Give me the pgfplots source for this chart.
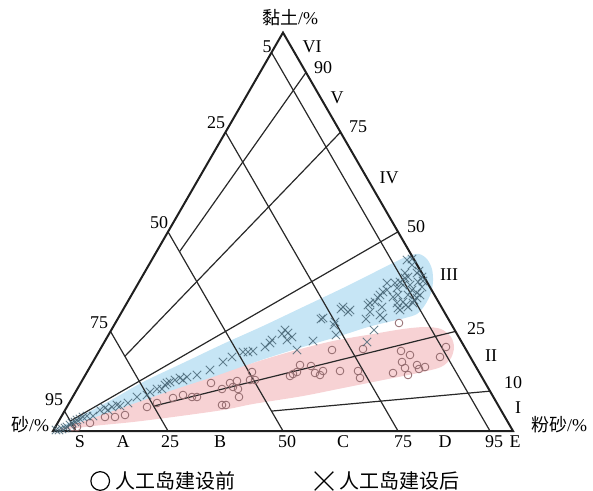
\documentclass[border=0pt]{standalone}
\usepackage{fontspec}
\setmainfont{Liberation Serif}
\newfontfamily\cjk{Noto Sans CJK SC}
\usepackage{pgfplots}
\pgfplotsset{compat=1.18}
\definecolor{blueReg}{RGB}{198,229,245}
\definecolor{pinkReg}{RGB}{247,210,212}
\definecolor{crossC}{RGB}{72,102,118}
\definecolor{circC}{RGB}{145,105,108}
\definecolor{lineC}{RGB}{40,40,40}
\newcommand\lbl{\fontsize{13.5}{15}\selectfont}
\begin{document}
\begin{tikzpicture}
\begin{axis}[x=0.75pt,y=0.75pt,xmin=-53,xmax=540,ymin=-59,ymax=431,
  hide axis, clip=false, enlargelimits=false,
  legend style={at={(axis cs:37,-50)},anchor=west,draw=none,fill=none,
    legend columns=2,font=\fontsize{15}{18}\selectfont\cjk,inner sep=0pt,
    nodes={inner sep=0pt},
    /tikz/every even column/.append style={column sep=59pt},
    /tikz/every odd column/.append style={column sep=4pt}},
  legend cell align=left]
\coordinate (BL) at (axis cs:-53,-59);
\coordinate (TR) at (axis cs:540,431);
% shaded regions
\addplot[fill=blueReg,draw=none,smooth,tension=0.5,forget plot] coordinates {
(0,0)(30,16)(60,32)(90,49)(130,68)(170,87)(210,105)(250,124)(290,143)(320,158)(340,168)(355,175)(366,177)(374,172)(379,162)(380,150)(378,138)(372,126)(364,117)(352,113)(335,109)(315,104)(290,96)(260,87)(230,78)(200,68)(160,52)(120,37)(80,23)(40,11)(0,0)} -- cycle;
\addplot[fill=pinkReg,draw=none,smooth,tension=0.5,forget plot] coordinates {
(0,0)(40,13)(80,27)(120,41)(160,54)(200,68)(240,80)(280,90)(320,97)(350,102)(372,104)(388,102)(398,94)(401,84)(398,73)(388,64)(365,58)(330,51)(290,43)(250,35)(200,27)(170,21)(120,14)(80,9)(40,5)(0,0)} -- cycle;
% constant sand lines (95, 75, 50, 25, 5 %)
\addplot[lineC,line width=0.9pt,forget plot] coordinates {(11.5,19.92)(23,0)};
\addplot[lineC,line width=0.9pt,forget plot] coordinates {(57.5,99.6)(115,0)};
\addplot[lineC,line width=0.9pt,forget plot] coordinates {(115,199.2)(230,0)};
\addplot[lineC,line width=0.9pt,forget plot] coordinates {(172.5,298.8)(345,0)};
\addplot[lineC,line width=0.9pt,forget plot] coordinates {(218.5,378.48)(437,0)};
% clay/(clay+silt) ratio lines (90, 75, 50, 25, 10 %)
\addplot[lineC,line width=0.9pt,forget plot] coordinates {(253,358.56)(126.5,179.28)};
\addplot[lineC,line width=0.9pt,forget plot] coordinates {(287.5,298.8)(71.875,74.7)};
\addplot[lineC,line width=0.9pt,forget plot] coordinates {(345,199.2)(17.25,9.96)};
\addplot[lineC,line width=0.9pt,forget plot] coordinates {(402.5,99.6)(100.625,24.9)};
\addplot[lineC,line width=0.9pt,forget plot] coordinates {(437,39.84)(218.5,19.92)};
% triangle
\addplot[black!88,line width=1.5pt,line join=miter,forget plot] coordinates {(0,0)(460,0)(230,398.4)(0,0)(460,0)};
% before construction
\addplot[only marks,mark=o,mark size=2.9pt,color=circC,mark options={line width=0.6pt},forget plot] table {
X Y
19 4
24 4
37 8
52 14
62 14
72 16
94 24
104 28
120 33
130 36
139 34
144 34
158 48
169 42
169 26
173 26
177 48
180 44
185 42
184 50
186 34
197 51
199 59
202 51
237 55
240 57
244 59
247 66
258 65
262 58
267 56
270 60
279 81
287 60
305 60
307 53
310 82
340 58
346 108
348 80
349 69
352 63
355 56
357 76
364 66
366 62
372 64
387 74
393 84
};
% after construction
\addplot[only marks,mark=x,mark size=4.5pt,color=crossC,opacity=0.8,mark options={line width=0.65pt},forget plot] table {
X Y
3 1
6 1
9 2
12 3
14 4
17 6
19 8
22 9
24 11
27 12
30 14
34 15
40 15
47 21
52 23
55 21
59 24
64 26
67 25
75 28
84 34
94 36
97 39
104 42
109 42
112 46
114 48
117 49
122 51
127 53
130 51
134 54
144 56
157 61
170 69
179 74
190 79
195 79
200 80
212 84
217 88
219 91
229 97
232 101
234 91
235 98
239 94
244 81
260 90
268 112
270 113
281 106
283 96
282 109
288 122
290 124
295 119
297 121
313 112
314 89
317 119
317 128
315 126
321 101
322 129
325 133
327 136
327 116
329 124
330 139
330 113
334 141
334 148
340 134
342 148
344 128
344 143
345 136
345 123
347 149
347 121
350 146
350 129
352 153
352 158
354 171
355 154
355 136
355 124
357 146
359 166
359 141
359 172
360 128
364 158
364 138
364 133
365 149
366 160
367 136
369 144
369 154
370 150
361 131
353 126
};
\addlegendimage{legend image code/.code={\draw[black,line width=0.9pt] (7pt,0pt) circle (7pt);}}
\addlegendentry{人工岛建设前}
\addlegendimage{legend image code/.code={\draw[black,line width=0.9pt] (0pt,-7pt)--(14pt,7pt) (0pt,7pt)--(14pt,-7pt);}}
\addlegendentry{人工岛建设后}
% labels
\node[font=\lbl] at (axis cs:237,413) {{\cjk 黏土}/\%};
\node[font=\lbl] at (axis cs:214,384) {5};
\node[font=\lbl] at (axis cs:259,384) {VI};
\node[font=\lbl] at (axis cs:270,363) {90};
\node[font=\lbl] at (axis cs:284,333) {V};
\node[font=\lbl] at (axis cs:305,304) {75};
\node[font=\lbl] at (axis cs:336,253) {IV};
\node[font=\lbl] at (axis cs:363,204) {50};
\node[font=\lbl] at (axis cs:396,156) {III};
\node[font=\lbl] at (axis cs:423,102) {25};
\node[font=\lbl] at (axis cs:438,75) {II};
\node[font=\lbl] at (axis cs:460,48) {10};
\node[font=\lbl] at (axis cs:465,23) {I};
\node[font=\lbl] at (axis cs:506,6) {{\cjk 粉砂}/\%};
\node[font=\lbl] at (axis cs:163,308) {25};
\node[font=\lbl] at (axis cs:106,208) {50};
\node[font=\lbl] at (axis cs:46,108) {75};
\node[font=\lbl] at (axis cs:1,31) {95};
\node[font=\lbl] at (axis cs:-23,6) {{\cjk 砂}/\%};
\node[font=\lbl] at (axis cs:27,-11) {S};
\node[font=\lbl] at (axis cs:70,-11) {A};
\node[font=\lbl] at (axis cs:117,-11) {25};
\node[font=\lbl] at (axis cs:167,-11) {B};
\node[font=\lbl] at (axis cs:234,-11) {50};
\node[font=\lbl] at (axis cs:290,-11) {C};
\node[font=\lbl] at (axis cs:350,-11) {75};
\node[font=\lbl] at (axis cs:392,-11) {D};
\node[font=\lbl] at (axis cs:441,-11) {95};
\node[font=\lbl] at (axis cs:462,-11) {E};
\end{axis}
\pgfresetboundingbox
\path (BL) rectangle (TR);
\end{tikzpicture}
\end{document}
